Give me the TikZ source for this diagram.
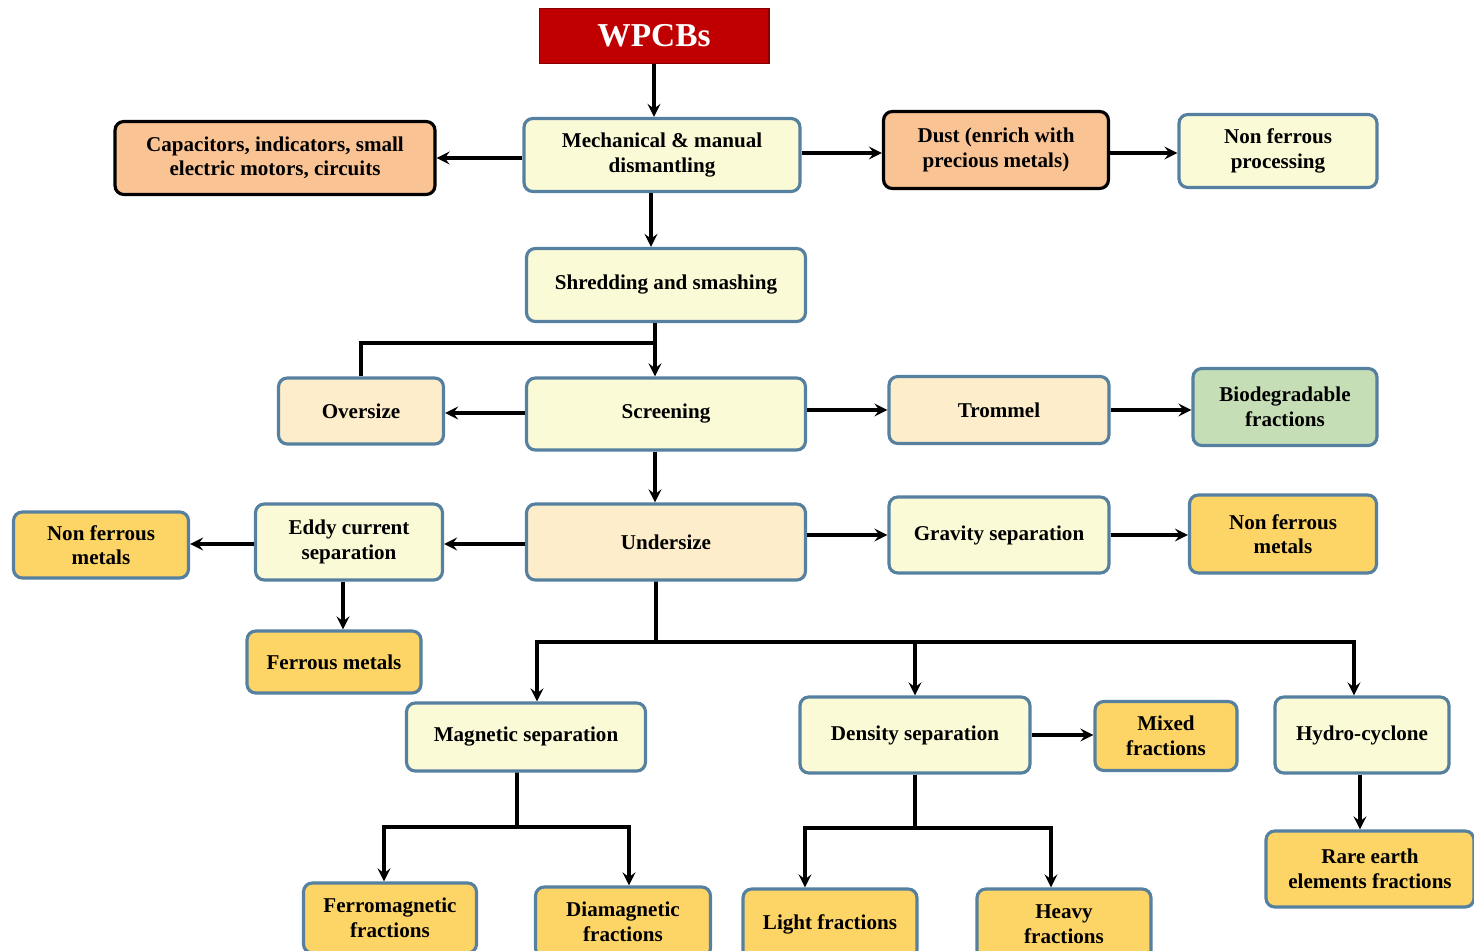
\documentclass[tikz,border=0pt]{standalone}
\usepackage{fontspec}
\setmainfont{Liberation Serif}
\usetikzlibrary{positioning}
\definecolor{palebox}{HTML}{FBFAD6}
\definecolor{edgeblue}{HTML}{56809F}
\definecolor{peach}{HTML}{FAC394}
\definecolor{cream}{HTML}{FDEDCB}
\definecolor{golden}{HTML}{FDD466}
\definecolor{sage}{HTML}{C6DEB6}
\definecolor{wred}{HTML}{C00000}

\begin{document}
\begin{tikzpicture}[x=0.02cm,y=-0.02cm,->,>=stealth,line width=2.2pt,
    main node/.style={draw=edgeblue,line width=1.8pt,rounded corners=5pt,fill=palebox,align=center,inner sep=2pt,font=\fontsize{12}{14}\selectfont\bfseries},
    dark node/.style={main node,draw=black,fill=peach},
    cream node/.style={main node,fill=cream},
    gold node/.style={main node,fill=golden},
    green node/.style={main node,fill=sage}]
    \useasboundingbox (0,0) rectangle (1474,950);

    \node[draw=wred!70!black,line width=0.6pt,fill=wred,text=white,font=\fontsize{19}{22}\selectfont\bfseries,minimum width=4.6cm,minimum height=1.1cm] (wpcb) at (654,36) {WPCBs};
    \node[main node,minimum width=5.52cm,minimum height=1.46cm] (mech) at (662,155) {Mechanical \& manual\\dismantling};
    \node[dark node,minimum width=6.4cm,minimum height=1.46cm] (capa) at (275,158) {Capacitors, indicators, small\\electric motors, circuits};
    \node[dark node,minimum width=4.5cm,minimum height=1.54cm] (dust) at (996,150) {Dust (enrich with\\precious metals)};
    \node[main node,minimum width=3.96cm,minimum height=1.46cm] (nfproc) at (1278,151) {Non ferrous\\processing};
    \node[main node,minimum width=5.58cm,minimum height=1.46cm] (shred) at (666,285) {Shredding and smashing};

    \node[cream node,minimum width=3.3cm,minimum height=1.32cm] (over) at (361,411) {Oversize};
    \node[main node,minimum width=5.58cm,minimum height=1.44cm] (screen) at (666,414) {Screening};
    \node[cream node,minimum width=4.4cm,minimum height=1.34cm] (trommel) at (999,410) {Trommel};
    \node[green node,minimum width=3.68cm,minimum height=1.54cm] (bio) at (1285,407) {Biodegradable\\fractions};

    \node[gold node,minimum width=3.5cm,minimum height=1.32cm] (nfleft) at (101,545) {Non ferrous\\metals};
    \node[main node,minimum width=3.74cm,minimum height=1.52cm] (eddy) at (349,542) {Eddy current\\separation};
    \node[cream node,minimum width=5.58cm,minimum height=1.52cm] (under) at (666,542) {Undersize};
    \node[main node,minimum width=4.4cm,minimum height=1.52cm] (gravity) at (999,535) {Gravity separation};
    \node[gold node,minimum width=3.74cm,minimum height=1.56cm] (nfright) at (1283,534) {Non ferrous\\metals};
    \node[gold node,minimum width=3.48cm,minimum height=1.24cm] (ferrous) at (334,662) {Ferrous metals};

    \node[main node,minimum width=4.78cm,minimum height=1.36cm] (magnet) at (526,737) {Magnetic separation};
    \node[main node,minimum width=4.6cm,minimum height=1.52cm] (density) at (915,735) {Density separation};
    \node[gold node,minimum width=2.84cm,minimum height=1.38cm] (mixed) at (1166,736) {Mixed\\fractions};
    \node[main node,minimum width=3.48cm,minimum height=1.52cm] (hydro) at (1362,735) {Hydro-cyclone};

    \node[gold node,minimum width=3.46cm,minimum height=1.4cm] (ferro) at (390,918) {Ferromagnetic\\fractions};
    \node[gold node,minimum width=3.5cm,minimum height=1.4cm] (dia) at (623,922) {Diamagnetic\\fractions};
    \node[gold node,minimum width=3.48cm,minimum height=1.4cm] (light) at (830,924) {Light fractions};
    \node[gold node,minimum width=3.48cm,minimum height=1.4cm] (heavy) at (1064,924) {Heavy\\fractions};
    \node[gold node,minimum width=4.16cm,minimum height=1.52cm] (rare) at (1370,869) {Rare earth\\elements fractions};

    % junctions of the branching lines
    \coordinate (j0) at (655,343);
    \coordinate (j1) at (656,642);
    \coordinate (j2) at (517,827);
    \coordinate (j3) at (915,828);

    % top part
    \draw (wpcb.south) -- (wpcb.south |- mech.north);
    \draw (mech.west |- capa) -- (capa);
    \draw (mech.east |- 0,153) -- (dust.west |- 0,153);
    \draw (dust.east |- 0,153) -- (nfproc.west |- 0,153);
    \draw ([xshift=-0.22cm]mech.south) -- ([xshift=-0.22cm]mech.south |- shred.north);
    \draw ([xshift=-0.22cm]shred.south) -- ([xshift=-0.22cm]shred.south |- screen.north);
    \draw[-] (j0) -| (over.north);

    % screening
    \draw (screen.west |- 0,413) -- (over.east |- 0,413);
    \draw (screen.east |- trommel) -- (trommel);
    \draw (trommel) -- (bio.west |- trommel);
    \draw ([xshift=-0.22cm]screen.south) -- ([xshift=-0.22cm]screen.south |- under.north);

    % undersize
    \draw (under.west |- 0,544) -- (eddy.east |- 0,544);
    \draw (eddy.west |- 0,544) -- (nfleft.east |- 0,544);
    \draw ([xshift=-0.12cm]eddy.south) -- ([xshift=-0.12cm]eddy.south |- ferrous.north);
    \draw (under.east |- gravity) -- (gravity);
    \draw (gravity) -- (nfright.west |- gravity);
    \draw[-] ([xshift=-0.2cm]under.south) -- (j1);
    \draw (j1) -| ([xshift=0.22cm]magnet.north);
    \draw (j1) -| (density.north);
    \draw (j1) -| ([xshift=-0.16cm]hydro.north);

    % separations
    \draw (density) -- (mixed.west |- density);
    \draw[-] ([xshift=-0.18cm]magnet.south) -- (j2);
    \draw (j2) -| ([xshift=-0.12cm]ferro.north);
    \draw (j2) -| ([xshift=0.12cm]dia.north);
    \draw[-] (density.south) -- (j3);
    \draw (j3) -| ([xshift=-0.5cm]light.north);
    \draw (j3) -| ([xshift=-0.26cm]heavy.north);
    \draw ([xshift=-0.04cm]hydro.south) -- ([xshift=-0.04cm]hydro.south |- rare.north);
\end{tikzpicture}
\end{document}
